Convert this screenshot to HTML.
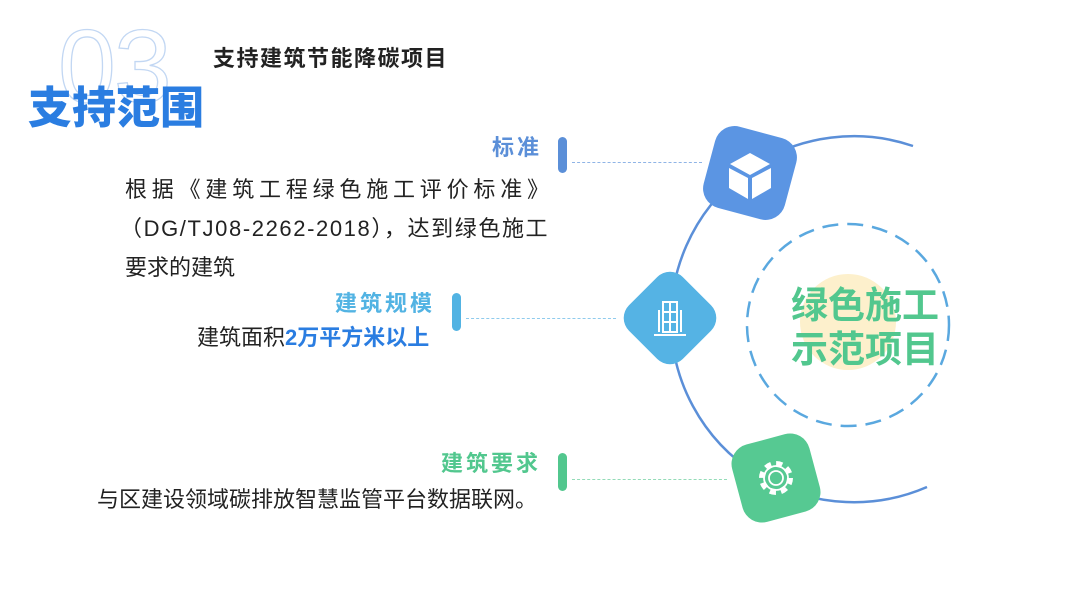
<!DOCTYPE html>
<html><head><meta charset="utf-8"><style>
body{margin:0;width:1080px;height:608px;background:#fff;position:relative;overflow:hidden;font-family:"Liberation Sans","Noto Sans CJK SC",sans-serif;}
.a{position:absolute;white-space:nowrap;}
.bar{position:absolute;width:9px;border-radius:5px;}
.dash{position:absolute;height:0;border-top:1.5px dashed;}
</style></head><body>
<div class="a" style="left:58px;top:12px;font-size:104px;font-weight:300;color:transparent;-webkit-text-stroke:1.3px #c2d7f3;letter-spacing:-2px;line-height:110px;">03</div>
<div class="a" style="left:213px;top:41px;font-size:22px;font-weight:bold;color:#222;letter-spacing:1.5px;">支持建筑节能降碳项目</div>
<div class="a" style="left:28px;top:80px;font-size:44px;font-weight:900;color:#2a7de1;line-height:58px;">支持范围</div>

<div class="a" style="left:492px;top:130px;font-size:22px;font-weight:bold;color:#5b8fd8;letter-spacing:3px;">标准</div>
<div class="bar" style="left:558px;top:137px;height:36px;background:#5b8fd8;"></div>
<div class="dash" style="left:572px;top:162px;width:130px;border-color:#8fb4e6;"></div>
<div class="a" style="left:125px;top:172px;font-size:22px;color:#222;letter-spacing:4.8px;">根据《建筑工程绿色施工评价标准》</div>
<div class="a" style="left:120px;top:211px;font-size:22px;color:#222;letter-spacing:1.6px;">（DG/TJ08-2262-2018），达到绿色施工</div>
<div class="a" style="left:125px;top:250px;font-size:22px;color:#222;">要求的建筑</div>

<div class="a" style="left:335px;top:286px;font-size:22px;font-weight:bold;color:#52b3e3;letter-spacing:3px;">建筑规模</div>
<div class="bar" style="left:452px;top:293px;height:38px;background:#52b3e3;"></div>
<div class="dash" style="left:466px;top:318px;width:150px;border-color:#8fcbed;"></div>
<div class="a" style="left:197px;top:320px;font-size:22px;color:#222;">建筑面积<b style="color:#2a7de1;">2万平方米以上</b></div>

<div class="a" style="left:441px;top:446px;font-size:22px;font-weight:bold;color:#52c78e;letter-spacing:3px;">建筑要求</div>
<div class="bar" style="left:558px;top:453px;height:38px;background:#52c78e;"></div>
<div class="dash" style="left:572px;top:479px;width:155px;border-color:#94dcb8;"></div>
<div class="a" style="left:97px;top:482px;font-size:22px;color:#222;">与区建设领域碳排放智慧监管平台数据联网。</div>

<svg class="a" style="left:0;top:0" width="1080" height="608">
<circle cx="848" cy="322" r="48" fill="#fdf0cc"/>
<circle cx="848" cy="325" r="101" fill="none" stroke="#5aa8df" stroke-width="2.5" stroke-dasharray="16 9"/>
<path d="M913 146 A183 183 0 1 0 927 487" fill="none" stroke="#5b8fd8" stroke-width="2.5"/>
<g transform="translate(750,173) rotate(15)"><rect x="-42" y="-42" width="84" height="84" rx="20" fill="#5b95e3"/></g>
<g fill="#fff" transform="translate(750,173)">
<path d="M0 -20 L20 -9 L0 2 L-20 -9Z"/><path d="M-21 -5 L-2 5 L-2 26 L-21 15Z"/><path d="M2 5 L21 -5 L21 15 L2 26Z"/>
</g>
<g transform="translate(670,318) rotate(45)"><rect x="-38" y="-38" width="76" height="76" rx="18" fill="#55b3e4"/></g>
<g fill="none" stroke="#fff" stroke-width="2" transform="translate(670,318)">
<rect x="-7" y="-16" width="14" height="30"/><line x1="-7" y1="-6" x2="7" y2="-6"/><line x1="-7" y1="4" x2="7" y2="4"/><line x1="0" y1="-16" x2="0" y2="14"/>
<line x1="-11" y1="-8" x2="-11" y2="14"/><line x1="11" y1="-8" x2="11" y2="14"/><line x1="-16" y1="17" x2="16" y2="17"/>
</g>
<g transform="translate(776,478) rotate(-15)"><rect x="-40" y="-40" width="80" height="80" rx="20" fill="#56c992"/></g>
<g fill="none" stroke="#fff" stroke-width="1.8" transform="translate(776,478)">
<circle r="7"/><circle r="14" stroke-dasharray="6 5" stroke-width="6"/><circle r="12"/>
</g>
<text x="865" y="318" text-anchor="middle" font-size="37" font-weight="bold" fill="#52c78e" font-family="Liberation Sans,Noto Sans CJK SC,sans-serif">绿色施工</text>
<text x="865" y="362" text-anchor="middle" font-size="37" font-weight="bold" fill="#52c78e" font-family="Liberation Sans,Noto Sans CJK SC,sans-serif">示范项目</text>
</svg>
</body></html>
